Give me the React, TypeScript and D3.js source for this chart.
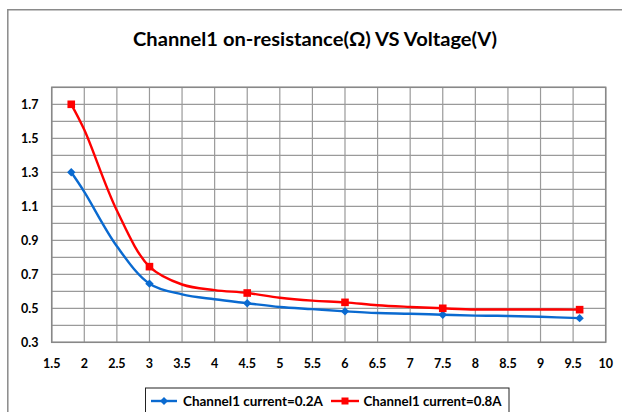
import React from "react";
import * as d3 from "d3";

const voltages = [1.8, 2, 2.5, 3, 3.5, 4, 4.5, 5, 5.5, 6, 6.5, 7, 7.5, 8, 8.5, 9, 9.6];
const current02 = [1.30, 1.185, 0.865, 0.645, 0.582, 0.553, 0.53, 0.508, 0.495, 0.482, 0.472, 0.468, 0.462, 0.457, 0.455, 0.45, 0.442];
const current08 = [1.70, 1.55, 1.075, 0.745, 0.64, 0.607, 0.59, 0.562, 0.545, 0.535, 0.518, 0.508, 0.50, 0.493, 0.493, 0.493, 0.492];
const markerVoltages = [1.8, 3, 4.5, 6, 7.5, 9.6];
const xTicks = [1.5, 2, 2.5, 3, 3.5, 4, 4.5, 5, 5.5, 6, 6.5, 7, 7.5, 8, 8.5, 9, 9.5, 10];
const yLabels = [0.3, 0.5, 0.7, 0.9, 1.1, 1.3, 1.5, 1.7];
const yGrid = [0.3, 0.4, 0.5, 0.6, 0.7, 0.8, 0.9, 1.0, 1.1, 1.2, 1.3, 1.4, 1.5, 1.6, 1.7, 1.8];
const seriesNames = ["Channel1 current=0.2A", "Channel1 current=0.8A"];
const title = "Channel1 on-resistance(Ω) VS Voltage(V)";

const W = 622, H = 412;
const plot = { left: 51.7, right: 605.7, top: 87.3, bottom: 342.3 };
const font = "Lato, 'Open Sans', 'DejaVu Sans', sans-serif";
const BLUE = "#0A6AD0";
const RED = "#FF0000";

export default function App() {
  const x = d3.scaleLinear().domain([1.5, 10]).range([plot.left, plot.right]);
  const y = d3.scaleLinear().domain([0.3, 1.8]).range([plot.bottom, plot.top]);
  const line = d3
    .line<number>()
    .x((_, i) => x(voltages[i]))
    .y((d) => y(d))
    .curve(d3.curveCatmullRom.alpha(0.5));

  const markerIdx = voltages
    .map((v, i) => (markerVoltages.includes(v) ? i : -1))
    .filter((i) => i >= 0);

  const diamond = (cx: number, cy: number, r: number) =>
    `M${cx},${cy - r}L${cx + r},${cy}L${cx},${cy + r}L${cx - r},${cy}Z`;

  return (
    <svg
      width={W}
      height={H}
      style={{ position: "absolute", left: 0, top: 0, background: "#fff" }}
      fontFamily={font}
    >
      <rect x={0} y={0} width={W} height={H} fill="#fff" />
      {/* outer frame */}
      <path d={`M7.8,${H + 5}V9.8H${W + 5}`} fill="none" stroke="#8a8a8a" strokeWidth={1.5} />
      <text x={315} y={46} textAnchor="middle" fontWeight="bold" fontSize={18} textLength={364} lengthAdjust="spacingAndGlyphs" fill="#000">
        {title}
      </text>
      {/* grid */}
      {yGrid.map((v) => (
        <line key={"gy" + v} x1={plot.left} x2={plot.right} y1={y(v)} y2={y(v)} stroke="#9a9a9a" strokeWidth={1.2} />
      ))}
      {xTicks.map((v) => (
        <line key={"gx" + v} x1={x(v)} x2={x(v)} y1={plot.top} y2={plot.bottom} stroke="#9a9a9a" strokeWidth={1.2} />
      ))}
      <rect x={plot.left} y={plot.top} width={plot.right - plot.left} height={plot.bottom - plot.top} fill="none" stroke="#888" strokeWidth={1.5} />
      {/* axes labels */}
      {yLabels.map((v) => (
        <text key={"yl" + v} x={38.5} y={y(v) + 4.5} textAnchor="end" fontSize={12.5} fontWeight="bold" fill="#000">
          {v.toFixed(1)}
        </text>
      ))}
      {xTicks.map((v) => (
        <text key={"xl" + v} x={x(v)} y={368} textAnchor="middle" fontSize={12.5} fontWeight="bold" fill="#000">
          {String(v)}
        </text>
      ))}
      {/* series */}
      <path d={line(current02) || ""} fill="none" stroke={BLUE} strokeWidth={2.4} />
      <path d={line(current08) || ""} fill="none" stroke={RED} strokeWidth={2.4} />
      {markerIdx.map((i) => (
        <path key={"mb" + i} d={diamond(x(voltages[i]), y(current02[i]), 4.2)} fill={BLUE} />
      ))}
      {markerIdx.map((i) => (
        <rect key={"mr" + i} x={x(voltages[i]) - 3.8} y={y(current08[i]) - 3.8} width={7.6} height={7.6} fill={RED} />
      ))}
      {/* legend */}
      <rect x={145.5} y={388} width={363.5} height={30} fill="#fff" stroke="#222" strokeWidth={1} />
      <line x1={151} x2={177} y1={401} y2={401} stroke={BLUE} strokeWidth={2.4} />
      <path d={diamond(164, 401, 4)} fill={BLUE} />
      <text x={183} y={405.5} fontSize={12.5} fontWeight="bold" fill="#000" textLength={140} lengthAdjust="spacingAndGlyphs">
        {seriesNames[0]}
      </text>
      <line x1={331} x2={359} y1={401} y2={401} stroke={RED} strokeWidth={2.4} />
      <rect x={341.5} y={397.5} width={7} height={7} fill={RED} />
      <text x={363.5} y={405.5} fontSize={12.5} fontWeight="bold" fill="#000" textLength={138} lengthAdjust="spacingAndGlyphs">
        {seriesNames[1]}
      </text>
    </svg>
  );
}
